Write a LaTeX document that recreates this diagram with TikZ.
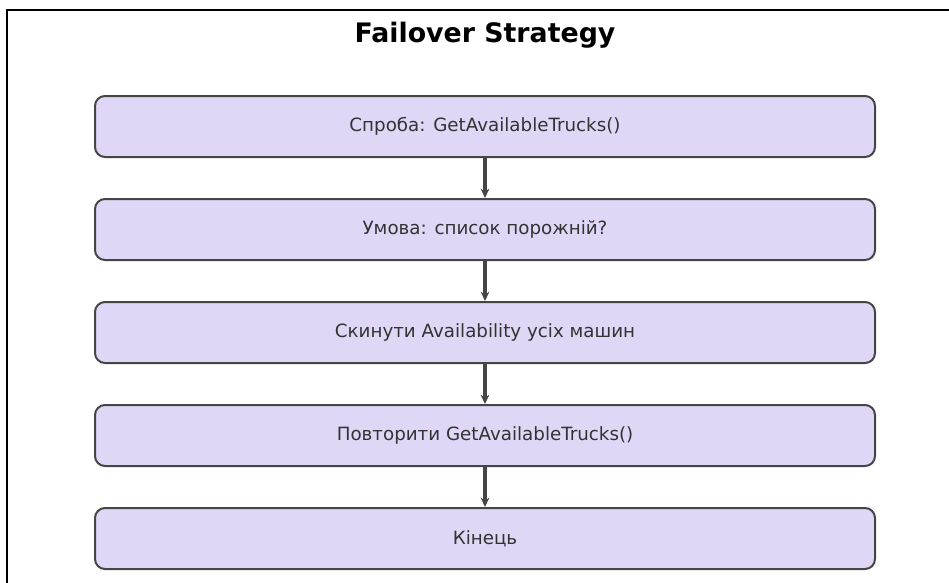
\documentclass[tikz,border=0pt]{standalone}
\usepackage{fontspec}
\setmainfont{DejaVu Sans}
\usepackage{tikz}
\usetikzlibrary{positioning, arrows.meta}

\definecolor{boxfill}{HTML}{E0D7F6}
\definecolor{boxline}{HTML}{454545}
\definecolor{boxtext}{HTML}{333333}

\begin{document}
\begin{tikzpicture}[
			x=0.75pt, y=-0.75pt,
			node distance=30pt,
			>={Stealth[length=7pt, width=6.5pt]},
			nodebox/.style={draw=boxline, fill=boxfill, line width=1.5pt, rounded corners=7.5pt, rectangle, minimum width=585pt, minimum height=45.75pt, align=center, text=boxtext, font=\fontsize{13.7pt}{16pt}\selectfont}
		]
		\useasboundingbox (0,0) rectangle (949,582);
		% frame
		\draw[line width=1.5pt] (7,590) -- (7,10) -- (960,10);

		\node[anchor=base, font=\bfseries\fontsize{20.1pt}{23pt}\selectfont] (title) at (485,42) {Failover Strategy};

		\node[nodebox] (try) at (485,126.5) {Спроба: GetAvailableTrucks()};
		\node[nodebox, below=of try] (check) {Умова: список порожній?};
		\node[nodebox, below=of check] (reset) {Скинути Availability усіх машин};
		\node[nodebox, below=of reset] (retry) {Повторити GetAvailableTrucks()};
		\node[nodebox, below=of retry] (done) {Кінець};

		\draw[->, line width=2.3pt, boxline] (try) -- (check);
		\draw[->, line width=2.3pt, boxline] (check) -- (reset);
		\draw[->, line width=2.3pt, boxline] (reset) -- (retry);
		\draw[->, line width=2.3pt, boxline] (retry) -- (done);
	\end{tikzpicture}
\end{document}
